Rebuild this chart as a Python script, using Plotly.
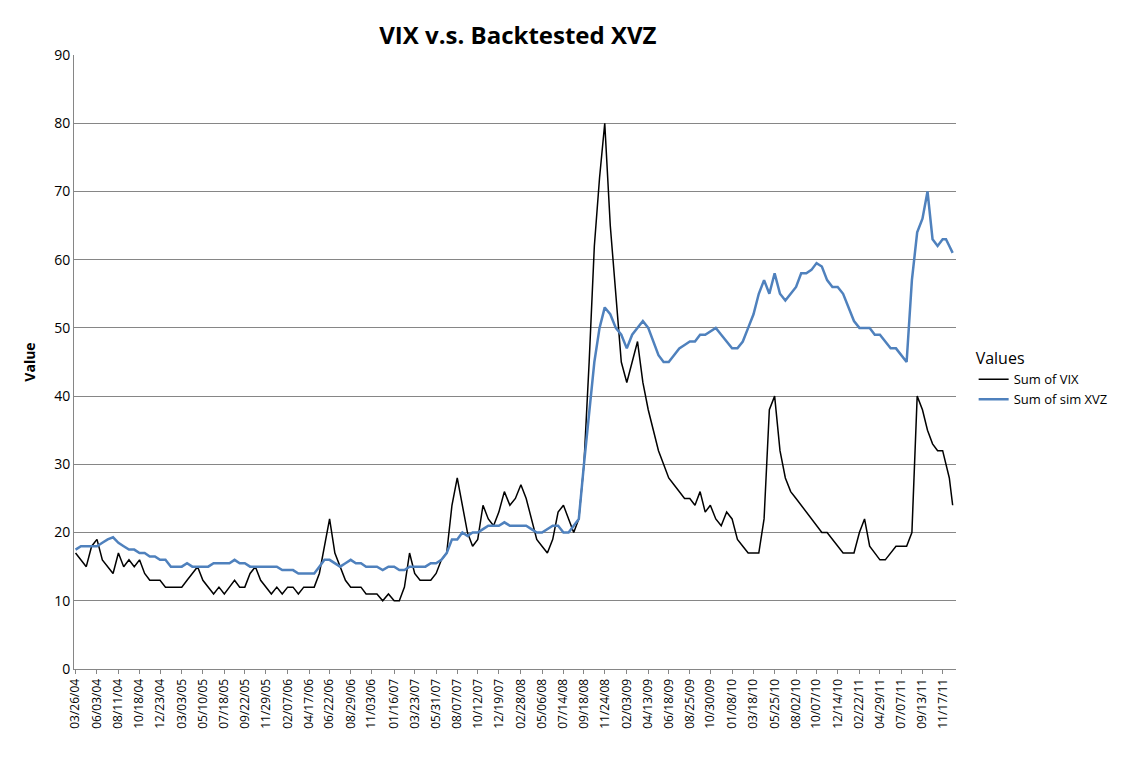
import plotly.graph_objects as go
import pandas as pd

labels = ["03/26/04","06/03/04","08/11/04","10/18/04","12/23/04","03/03/05","05/10/05","07/18/05","09/22/05","11/29/05",
"02/07/06","04/17/06","06/22/06","08/29/06","11/03/06","01/16/07","03/23/07","05/31/07","08/07/07","10/12/07",
"12/19/07","02/28/08","05/06/08","07/14/08","09/18/08","11/24/08","02/03/09","04/13/09","06/18/09","08/25/09",
"10/30/09","01/08/10","03/18/10","05/25/10","08/02/10","10/07/10","12/14/10","02/22/11","04/29/11","07/07/11",
"09/13/11","11/17/11"]
end_date = "12/30/11"

# four readings per label interval, starting at each label
vix = [
17,16,15,18, 19,16,15,14, 17,15,16,15, 16,14,13,13, 13,12,12,12,
12,13,14,15, 13,12,11,12, 11,12,13,12, 12,14,15,13, 12,11,12,11,
12,12,11,12, 12,12,14,18, 22,17,15,13, 12,12,12,11, 11,11,10,11,
10,10,12,17, 14,13,13,13, 14,16,17,24, 28,24,20,18, 19,24,22,21,
23,26,24,25, 27,25,22,19, 18,17,19,23, 24,22,20,22, 30,45,62,72,
80,65,55,45, 42,45,48,42, 38,35,32,30, 28,27,26,25, 25,24,26,23,
24,22,21,23, 22,19,18,17, 17,17,22,38, 40,32,28,26, 25,24,23,22,
21,20,20,19, 18,17,17,17, 20,22,18,17, 16,16,17,18, 18,18,20,40,
38,35,33,32, 32,30,28,24,
]
xvz = [
17.5,18,18,18, 18,18.5,19,19.3, 18.5,18,17.5,17.5, 17,17,16.5,16.5, 16,16,15,15,
15,15.5,15,15, 15,15,15.5,15.5, 15.5,15.5,16,15.5, 15.5,15,15,15, 15,15,15,14.5,
14.5,14.5,14,14, 14,14,15,16, 16,15.5,15,15.5, 16,15.5,15.5,15, 15,15,14.5,15,
15,14.5,14.5,15, 15,15,15,15.5, 15.5,16,17,19, 19,20,19.5,20, 20,20.5,21,21,
21,21.5,21,21, 21,21,20.5,20, 20,20.5,21,21, 20,20,21,22, 30,38,45,50,
53,52,50,49, 47,49,50,51, 50,48,46,45, 45,46,47,47.5, 48,48,49,49,
49.5,50,49,48, 47,47,48,50, 52,55,57,55, 58,55,54,55, 56,58,58,58.5,
59.5,59,57,56, 56,55,53,51, 50,50,50,49, 49,48,47,47, 46,45,57,64,
66,70,63,62, 63,63,62,61,
]

ldates = pd.to_datetime(labels + [end_date], format="%m/%d/%y")
xs = []
for i in range(len(labels)):
    a, b = ldates[i], ldates[i+1]
    for k in range(4):
        xs.append(a + (b - a) * (k / 4))
n = min(len(vix), len(xvz), len(xs))
xs = xs[:n]

fig = go.Figure()
fig.add_trace(go.Scatter(x=xs, y=vix[:n], mode="lines", name="Sum of VIX",
                         line=dict(color="black", width=1.5)))
fig.add_trace(go.Scatter(x=xs, y=xvz[:n], mode="lines", name="Sum of sim XVZ",
                         line=dict(color="#4F81BD", width=2.5)))
fig.update_layout(
    width=1133, height=759, paper_bgcolor="white", plot_bgcolor="white",
    font=dict(family="Open Sans", size=12, color="black"),
    title=dict(text="<b>VIX v.s. Backtested XVZ</b>", x=0.45, y=0.975, font=dict(size=24)),
    margin=dict(l=66, r=185, t=47, b=98),
    legend=dict(title=dict(text="Values"), x=1.02, y=0.53, yanchor="top",
                bgcolor="white", font=dict(size=13)),
    xaxis=dict(tickvals=list(ldates[:-1]), ticktext=labels, tickangle=-90,
               range=[ldates[0] - pd.Timedelta(days=5), ldates[-1]],
               showgrid=False, showline=True, linecolor="#868686", ticks="outside",
               ticklen=4, tickcolor="#868686"),
    yaxis=dict(range=[0, 90], dtick=10, showgrid=True, gridcolor="#868686",
               showline=True, linecolor="#868686", title=dict(text="<b>Value</b>"),
               tickfont=dict(size=14)),
)
fig.write_html("out.html")
